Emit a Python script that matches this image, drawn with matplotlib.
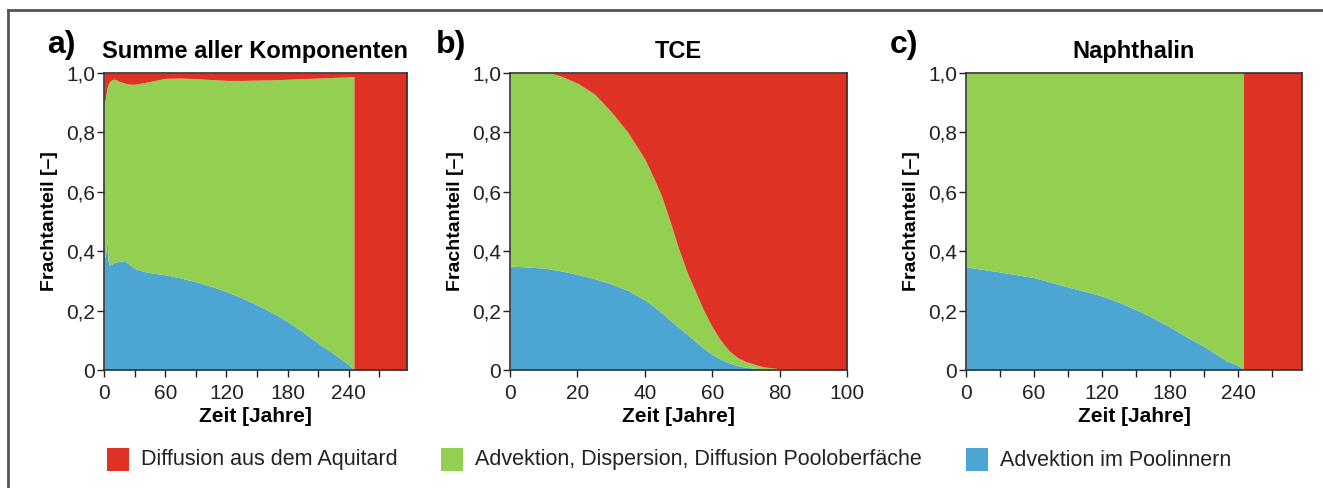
import matplotlib.pyplot as plt
from matplotlib.patches import Rectangle
from matplotlib.lines import Line2D

plt.rcParams['font.family'] = ['Liberation Sans', 'DejaVu Sans']

RED = '#de3224'
GREEN = '#93d052'
BLUE = '#4ca5d3'

# a) Summe aller Komponenten
t_a = [0, 1, 2, 3, 4, 5, 7, 10, 15, 20, 25, 30, 40, 50, 60, 75, 90, 105,
       120, 135, 150, 165, 180, 195, 210, 225, 240, 245, 245, 297]
blue_a = [0.377, 0.38, 0.40, 0.44, 0.37, 0.354, 0.355, 0.362, 0.366, 0.368,
          0.355, 0.342, 0.331, 0.325, 0.321, 0.31, 0.297, 0.282, 0.264, 0.243,
          0.219, 0.193, 0.163, 0.128, 0.09, 0.055, 0.018, 0.0, 0.0, 0.0]
green_a = [0.91, 0.905, 0.93, 0.95, 0.962, 0.968, 0.976, 0.98, 0.972, 0.966,
           0.962, 0.962, 0.968, 0.975, 0.982, 0.983, 0.981, 0.978, 0.975, 0.975,
           0.976, 0.977, 0.979, 0.981, 0.983, 0.985, 0.987, 0.988, 0.0, 0.0]

# b) TCE
t_b = [0, 5, 10, 12, 15, 20, 25, 30, 35, 40, 42.5, 45, 47.5, 50, 52.5, 55,
       57.5, 60, 62.5, 65, 67.5, 70, 75, 80, 85, 90, 100]
blue_b = [0.350, 0.347, 0.343, 0.340, 0.334, 0.322, 0.308, 0.290, 0.268,
          0.236, 0.216, 0.193, 0.168, 0.144, 0.12, 0.096, 0.073, 0.052, 0.036,
          0.024, 0.015, 0.009, 0.003, 0.0, 0.0, 0.0, 0.0]
green_b = [1.0, 1.0, 1.0, 1.0, 0.99, 0.966, 0.93, 0.87, 0.80, 0.71, 0.65,
           0.585, 0.50, 0.41, 0.33, 0.265, 0.20, 0.145, 0.10, 0.065, 0.042,
           0.028, 0.011, 0.004, 0.001, 0.0, 0.0]

# c) Naphthalin
t_c = [0, 30, 60, 90, 105, 120, 135, 150, 165, 180, 195, 210, 230, 240, 245,
       245, 296]
blue_c = [0.347, 0.33, 0.311, 0.279, 0.265, 0.249, 0.228, 0.203, 0.175,
          0.144, 0.11, 0.079, 0.03, 0.015, 0.0, 0.0, 0.0]
green_c = [1.0, 1.0, 1.0, 1.0, 1.0, 1.0, 1.0, 1.0, 1.0, 1.0, 1.0, 1.0, 1.0,
           1.0, 1.0, 0.0, 0.0]

labels = ['Diffusion aus dem Aquitard',
          'Advektion, Dispersion, Diffusion Pooloberfäche',
          'Advektion im Poolinnern']

panels = [
    ('a)', 'Summe aller Komponenten', t_a, blue_a, green_a,
     [104, 407], (0, 297), list(range(0, 271, 30)), 60, 47),
    ('b)', 'TCE', t_b, blue_b, green_b,
     [510, 847], (0, 100), list(range(0, 101, 20)), 20, 436),
    ('c)', 'Naphthalin', t_c, blue_c, green_c,
     [966, 1302], (0, 296), list(range(0, 271, 30)), 60, 890),
]

W, H = 1323, 488
fig = plt.figure(figsize=(W / 100, H / 100), dpi=100)

y0, y1 = 370, 73
for tag, title, t, blue, green, xs, xlim, ticks, lab_step, tag_x in panels:
    ax = fig.add_axes([xs[0] / W, 1 - y0 / H, (xs[1] - xs[0]) / W, (y0 - y1) / H])
    ax.fill_between(t, 0, blue, color=BLUE, lw=0)
    ax.fill_between(t, blue, green, color=GREEN, lw=0)
    ax.fill_between(t, green, 1, color=RED, lw=0)
    ax.set_xlim(*xlim)
    ax.set_ylim(0, 1)
    ax.set_xticks(ticks)
    ax.set_xticklabels([str(v) if v % lab_step == 0 else '' for v in ticks])
    yt = [0, 0.2, 0.4, 0.6, 0.8, 1.0]
    ax.set_yticks(yt)
    ax.set_yticklabels(['0'] + [f'{v:.1f}'.replace('.', ',') for v in yt[1:]])
    ax.tick_params(direction='out', length=5, width=1, labelsize=15,
                   colors='#222222')
    ax.tick_params(axis='y', pad=1.5)
    ax.tick_params(axis='x', pad=5)
    for s in ax.spines.values():
        s.set_color('#333333')
        s.set_linewidth(1.2)
    ax.set_xlabel('Zeit [Jahre]', fontsize=15, fontweight='bold', labelpad=3)
    ax.set_ylabel('Frachtanteil [–]', fontsize=14, fontweight='bold', labelpad=6)
    fig.text(tag_x / W, 1 - 45 / H, tag, fontsize=23, fontweight='bold',
             va='center', ha='left')
    ax.set_title(title, fontsize=17, fontweight='bold', pad=11)

# legend row
colors = [RED, GREEN, BLUE]
box_x = [107, 441, 966]
for c, lab, bx in zip(colors, labels, box_x):
    fig.patches.append(Rectangle((bx / W, 1 - 471 / H), 22 / W, 23 / H,
                                 transform=fig.transFigure, color=c, lw=0))
    fig.text((bx + 34) / W, 1 - 460 / H, lab, fontsize=15.5, va='center',
             ha='left', color='#222222')

# outer frame (top and left)
fig.add_artist(Line2D([8 / W, 1], [1 - 10 / H, 1 - 10 / H], color='#555555', lw=2))
fig.add_artist(Line2D([8 / W, 8 / W], [0, 1 - 10 / H], color='#555555', lw=2))

fig.savefig('out.png', dpi=100)
